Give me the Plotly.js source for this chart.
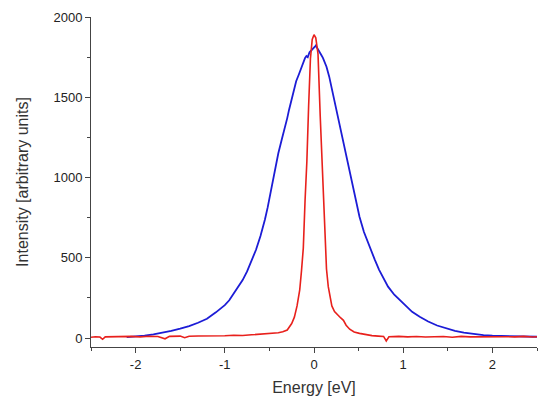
<!DOCTYPE html>
<html>
<head>
<meta charset="utf-8">
<script src="https://cdn.plot.ly/plotly-3.0.1.min.js"></script>
<style>html,body{margin:0;padding:0;background:#fff;}#chart{width:540px;height:398px;}</style>
</head>
<body>
<div id="chart"></div>
<script>
// Broad spectrum (blue)
const blueEnergy = [-2.10,-2.00,-1.90,-1.80,-1.70,-1.60,-1.50,-1.40,-1.30,-1.20,-1.10,-1.00,-0.95,-0.90,-0.85,-0.80,-0.75,-0.70,-0.65,-0.60,-0.57,-0.55,-0.52,-0.48,-0.44,-0.40,-0.36,-0.33,-0.30,-0.28,-0.25,-0.23,-0.20,-0.17,-0.14,-0.12,-0.10,-0.085,-0.07,-0.05,-0.03,-0.01,0.01,0.02,0.04,0.06,0.08,0.10,0.12,0.14,0.17,0.195,0.23,0.27,0.30,0.34,0.38,0.42,0.46,0.51,0.56,0.62,0.68,0.73,0.77,0.83,0.90,0.96,1.03,1.10,1.185,1.28,1.38,1.48,1.58,1.68,1.78,1.90,2.00,2.10,2.20,2.30,2.40,2.50];
const blueIntensity = [5,9,15,22,32,44,58,74,95,120,160,205,235,275,318,361,415,478,550,635,693,738,812,930,1045,1151,1240,1300,1370,1421,1495,1545,1600,1642,1690,1722,1745,1757,1750,1780,1790,1805,1815,1822,1800,1780,1765,1745,1715,1690,1630,1566,1470,1379,1300,1192,1085,984,880,756,660,569,490,425,382,320,270,237,195,163,133,103,78,60,45,34,25,18,14,12,10,9,8,8];

// Narrow spectrum (red)
const redEnergy = [-2.50,-2.45,-2.40,-2.37,-2.34,-2.25,-2.15,-2.05,-1.95,-1.85,-1.75,-1.67,-1.62,-1.50,-1.45,-1.40,-1.30,-1.20,-1.10,-1.00,-0.90,-0.80,-0.70,-0.60,-0.50,-0.40,-0.35,-0.30,-0.25,-0.22,-0.19,-0.16,-0.14,-0.12,-0.10,-0.08,-0.06,-0.04,-0.02,0.00,0.02,0.045,0.07,0.10,0.12,0.14,0.16,0.18,0.20,0.23,0.26,0.30,0.33,0.36,0.40,0.45,0.51,0.58,0.65,0.72,0.78,0.81,0.84,0.95,1.05,1.15,1.25,1.35,1.45,1.55,1.65,1.75,1.85,1.95,2.05,2.15,2.25,2.35,2.45,2.50];
const redIntensity = [5,8,6,-8,7,9,8,10,7,11,9,-5,10,12,2,11,13,12,15,14,17,16,20,24,27,33,39,50,90,130,200,300,420,560,860,1100,1450,1740,1860,1890,1870,1770,1380,950,680,430,320,250,200,165,145,125,110,80,55,38,29,20,15,12,10,-18,8,10,7,9,6,8,9,5,10,7,8,6,9,8,7,10,6,8];

const xTickVals = [-2,-1,0,1,2];
const xTickText = ['-2','-1','0','1','2'];
const yTickVals = [0,500,1000,1500,2000];
const yTickText = ['0','500','1000','1500','2000'];

const fam = '"Liberation Sans", Arial, sans-serif';
const tickFont = {family: fam, size: 13, color: '#222'};
const titleFont = {family: fam, size: 16, color: '#333'};

const traces = [
  {x: blueEnergy, y: blueIntensity, type: 'scatter', mode: 'lines', line: {color: '#1c1cd6', width: 1.8}, hoverinfo: 'skip'},
  {x: redEnergy, y: redIntensity, type: 'scatter', mode: 'lines', line: {color: '#e8201c', width: 1.6}, hoverinfo: 'skip'}
];

const layout = {
  width: 540, height: 398,
  margin: {l: 91, r: 3, t: 17, b: 51},
  paper_bgcolor: '#fff', plot_bgcolor: '#fff',
  showlegend: false,
  font: tickFont,
  xaxis: {
    range: [-2.5, 2.5], showgrid: false, zeroline: false,
    showline: true, linecolor: '#444', linewidth: 1,
    ticks: 'outside', ticklen: 5, tickcolor: '#444',
    tickvals: xTickVals, ticktext: xTickText,
    minor: {dtick: 0.5, tick0: 0, ticks: 'outside', ticklen: 3, tickcolor: '#444', showgrid: false},
    tickfont: tickFont,
    title: {text: 'Energy [eV]', font: titleFont, standoff: 11},
    automargin: false
  },
  yaxis: {
    range: [-56, 2000], showgrid: false, zeroline: false,
    showline: true, linecolor: '#444', linewidth: 1,
    ticks: 'outside', ticklen: 5, tickcolor: '#444',
    tickvals: yTickVals, ticktext: yTickText,
    minor: {dtick: 250, tick0: 0, ticks: 'outside', ticklen: 3, tickcolor: '#444', showgrid: false},
    tickfont: tickFont,
    title: {text: 'Intensity [arbitrary units]', font: titleFont, standoff: 20},
    automargin: false
  }
};

Plotly.newPlot('chart', traces, layout, {staticPlot: true, displayModeBar: false});
</script>
</body>
</html>
